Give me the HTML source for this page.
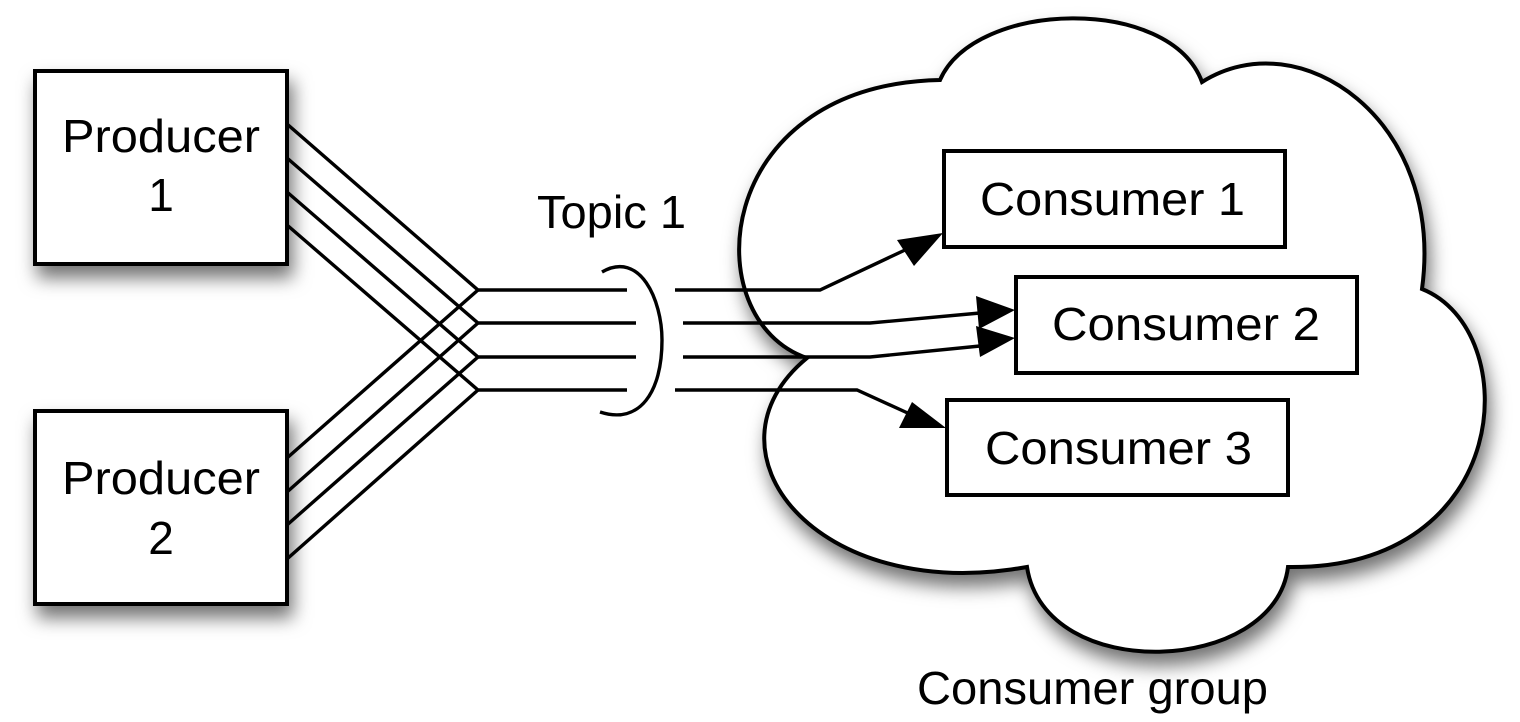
<!DOCTYPE html>
<html><head><style>html,body{margin:0;padding:0;background:#fff;}svg{display:block}</style></head>
<body>
<svg width="1520" height="722" viewBox="0 0 1520 722" xmlns="http://www.w3.org/2000/svg" font-family="Liberation Sans, Arial, sans-serif">
<defs>
<filter id="sh" x="-10%" y="-10%" width="130%" height="140%">
<feDropShadow dx="4" dy="12" stdDeviation="9" flood-color="#000" flood-opacity="0.55"/>
</filter>
</defs>
<g fill="#fff" stroke="#000" stroke-width="4">
<rect x="35" y="71" width="252" height="193" filter="url(#sh)"/>
<rect x="35" y="411" width="252" height="193" filter="url(#sh)"/>
<path filter="url(#sh)" d="M807 358 C695 320 710 85 940 80 C975 0 1170 -5 1202 82 C1300 20 1445 120 1422 289 C1525 330 1515 570 1288 567 C1275 675 1045 685 1027 567 C815 605 695 450 807 358 Z"/>
</g>
<g fill="none" stroke="#000" stroke-width="3.4">
<path d="M287 124 L478 290 L627 290"/>
<path d="M287 158 L478 323 L636 323"/>
<path d="M287 192 L478 357 L636 357"/>
<path d="M287 225 L478 390 L627 390"/>
<path d="M287 458 L478 290"/>
<path d="M287 492 L478 323"/>
<path d="M287 525 L478 357"/>
<path d="M287 559 L478 390"/>
<path d="M602 272 C640 250 662 300 662 340 C662 392 640 425 600 412"/>
<path d="M675 290 L820 290 L905 250"/>
<path d="M683 323 L870 323 L980 313"/>
<path d="M683 357 L870 357 L980 346"/>
<path d="M675 390 L857 390 L912 415"/>
</g>
<g fill="#000">
<polygon points="943,233 897,240 914,266"/>
<polygon points="1015,310 976,296 979,329"/>
<polygon points="1015,338 976,326 980,357"/>
<polygon points="946,428 912,402 899,428"/>
</g>
<g fill="#fff" stroke="#000" stroke-width="4">
<rect x="944" y="151" width="341" height="96"/>
<rect x="1016" y="277" width="341" height="96"/>
<rect x="947" y="400" width="341" height="95"/>
</g>
<g font-size="46" fill="#000">
<text x="62" y="152" textLength="198" lengthAdjust="spacingAndGlyphs">Producer</text>
<text x="161" y="211" text-anchor="middle">1</text>
<text x="62" y="494" textLength="198" lengthAdjust="spacingAndGlyphs">Producer</text>
<text x="161" y="554" text-anchor="middle">2</text>
<text x="537" y="228" textLength="149" lengthAdjust="spacingAndGlyphs">Topic 1</text>
<text x="980" y="215" textLength="265" lengthAdjust="spacingAndGlyphs">Consumer 1</text>
<text x="1052" y="340" textLength="268" lengthAdjust="spacingAndGlyphs">Consumer 2</text>
<text x="985" y="464" textLength="267" lengthAdjust="spacingAndGlyphs">Consumer 3</text>
<text x="917" y="704" textLength="351" lengthAdjust="spacingAndGlyphs">Consumer group</text>
</g>
</svg>
</body></html>
